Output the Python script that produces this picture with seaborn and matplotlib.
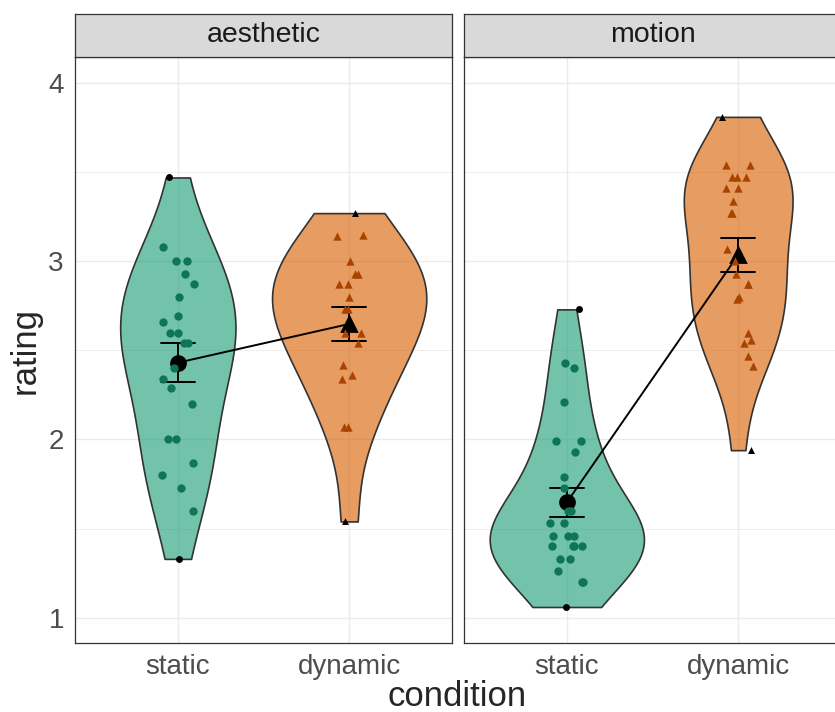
import numpy as np
import pandas as pd
import matplotlib
matplotlib.use('Agg')
from matplotlib import pyplot as plt
from matplotlib.ticker import MultipleLocator
import seaborn as sns

sns.set_style('white')
plt.rcParams['font.family'] = ['Liberation Sans', 'DejaVu Sans']

tasks = ['aesthetic', 'motion']
conditions = ['static', 'dynamic']

# jittered ratings per task / condition
aesthetic_static = [3.08, 3.00, 3.00, 2.93, 2.87, 2.80, 2.69, 2.66, 2.60, 2.60, 2.54, 2.54,
                    2.40, 2.34, 2.29, 2.20, 2.00, 2.00, 1.87, 1.80, 1.73, 1.60]
aesthetic_dynamic = [3.15, 3.14, 3.00, 2.93, 2.93, 2.87, 2.87, 2.80, 2.73, 2.73, 2.60, 2.60,
                     2.54, 2.42, 2.36, 2.34, 2.07, 2.07]
motion_static = [2.43, 2.40, 2.21, 1.99, 1.99, 1.93, 1.79, 1.73, 1.60, 1.60, 1.53, 1.53,
                 1.46, 1.46, 1.46, 1.40, 1.40, 1.40, 1.40, 1.33, 1.33, 1.26, 1.20, 1.20]
motion_dynamic = [3.54, 3.54, 3.47, 3.47, 3.47, 3.41, 3.41, 3.34, 3.27, 3.27, 3.07, 3.00,
                  2.93, 2.87, 2.87, 2.80, 2.79, 2.60, 2.56, 2.54, 2.47, 2.41]

# min / max of each group, drawn in black
aesthetic_static_ends = [3.47, 1.33]
aesthetic_dynamic_ends = [3.27, 1.54]
motion_static_ends = [2.73, 1.06]
motion_dynamic_ends = [3.81, 1.94]

groups = [
    ('aesthetic', 'static', aesthetic_static, aesthetic_static_ends),
    ('aesthetic', 'dynamic', aesthetic_dynamic, aesthetic_dynamic_ends),
    ('motion', 'static', motion_static, motion_static_ends),
    ('motion', 'dynamic', motion_dynamic, motion_dynamic_ends),
]

rows = []
for task, cond, vals, ends in groups:
    for v in vals:
        rows.append((task, cond, v, False))
    for v in ends:
        rows.append((task, cond, v, True))
df = pd.DataFrame(rows, columns=['task', 'condition', 'rating', 'end'])

fills = {'static': '#1b9e77', 'dynamic': '#d95f02'}
dots = {'static': '#0e7656', 'dynamic': '#a84400'}
shapes = {'static': 'o', 'dynamic': '^'}

W, H = 835, 712
fig = plt.figure(figsize=(W / 100, H / 100), dpi=100)
np.random.seed(7)

for i, task in enumerate(tasks):
    x0 = [75, 464][i]
    ax = fig.add_axes([x0 / W, (H - 643) / H, 377 / W, 586 / H])
    sub = df[df.task == task]

    sns.violinplot(data=sub, x='condition', y='rating', hue='condition', order=conditions,
                   hue_order=conditions, palette=fills, saturation=1, cut=0, inner=None,
                   density_norm='area', common_norm=True, width=0.9, bw_adjust=1.05,
                   linewidth=1.2, linecolor='#333333', legend=False, ax=ax)
    for coll in ax.collections:
        fc = coll.get_facecolor()
        coll.set_facecolor((*fc[0][:3], 0.62))

    for cond in conditions:
        pts = sub[(sub.condition == cond) & ~sub.end]
        sns.stripplot(data=pts, x='condition', y='rating', order=conditions, color=dots[cond],
                      marker=shapes[cond], size=6, jitter=0.1, linewidth=0, ax=ax)
        ends = sub[(sub.condition == cond) & sub.end]
        sns.stripplot(data=ends, x='condition', y='rating', order=conditions, color='black',
                      marker=shapes[cond], size=5, jitter=0.1, linewidth=0, ax=ax)

    # line between the means
    sns.pointplot(data=sub, x='condition', y='rating', order=conditions, color='black',
                  errorbar=None, markers='', linewidth=1.4, ax=ax)
    # means +- se
    sns.pointplot(data=sub, x='condition', y='rating', hue='condition', order=conditions,
                  hue_order=conditions, palette=['black', 'black'], markers=['o', '^'],
                  errorbar='se', capsize=0.2, markersize=10, err_kws={'linewidth': 1.4},
                  legend=False, ax=ax)

    ax.set_xlim(-0.6, 1.6)
    ax.set_ylim(0.858, 4.146)
    ax.set_xlabel('')
    ax.set_ylabel('')
    ax.yaxis.set_major_locator(MultipleLocator(1))
    ax.yaxis.set_minor_locator(MultipleLocator(0.5))
    ax.set_axisbelow(True)
    ax.grid(which='major', color='#ebebeb', lw=1.0)
    ax.grid(which='minor', axis='y', color='#ebebeb', lw=0.6)
    for s in ax.spines.values():
        s.set_color('#333333')
        s.set_linewidth(0.9)
    ax.tick_params(which='minor', length=0)
    ax.tick_params(which='major', length=5, width=1, color='#333333', labelcolor='#4d4d4d',
                   labelsize=20, pad=3)
    if i == 1:
        ax.tick_params(axis='y', left=False, labelleft=False)

    sax = fig.add_axes([x0 / W, (H - 57) / H, 377 / W, 43 / H])
    sax.set_facecolor('#d9d9d9')
    sax.set_xticks([])
    sax.set_yticks([])
    for s in sax.spines.values():
        s.set_color('#333333')
        s.set_linewidth(0.9)
    sax.text(0.5, 0.5, task, ha='center', va='center', fontsize=20.5, color='#1a1a1a')

fig.text(25 / W, 1 - 350 / H, 'rating', rotation=90, ha='center', va='center', fontsize=25)
fig.text(457 / W, 1 - 697 / H, 'condition', ha='center', va='center', fontsize=25)

fig.savefig('out.png', dpi=100)
